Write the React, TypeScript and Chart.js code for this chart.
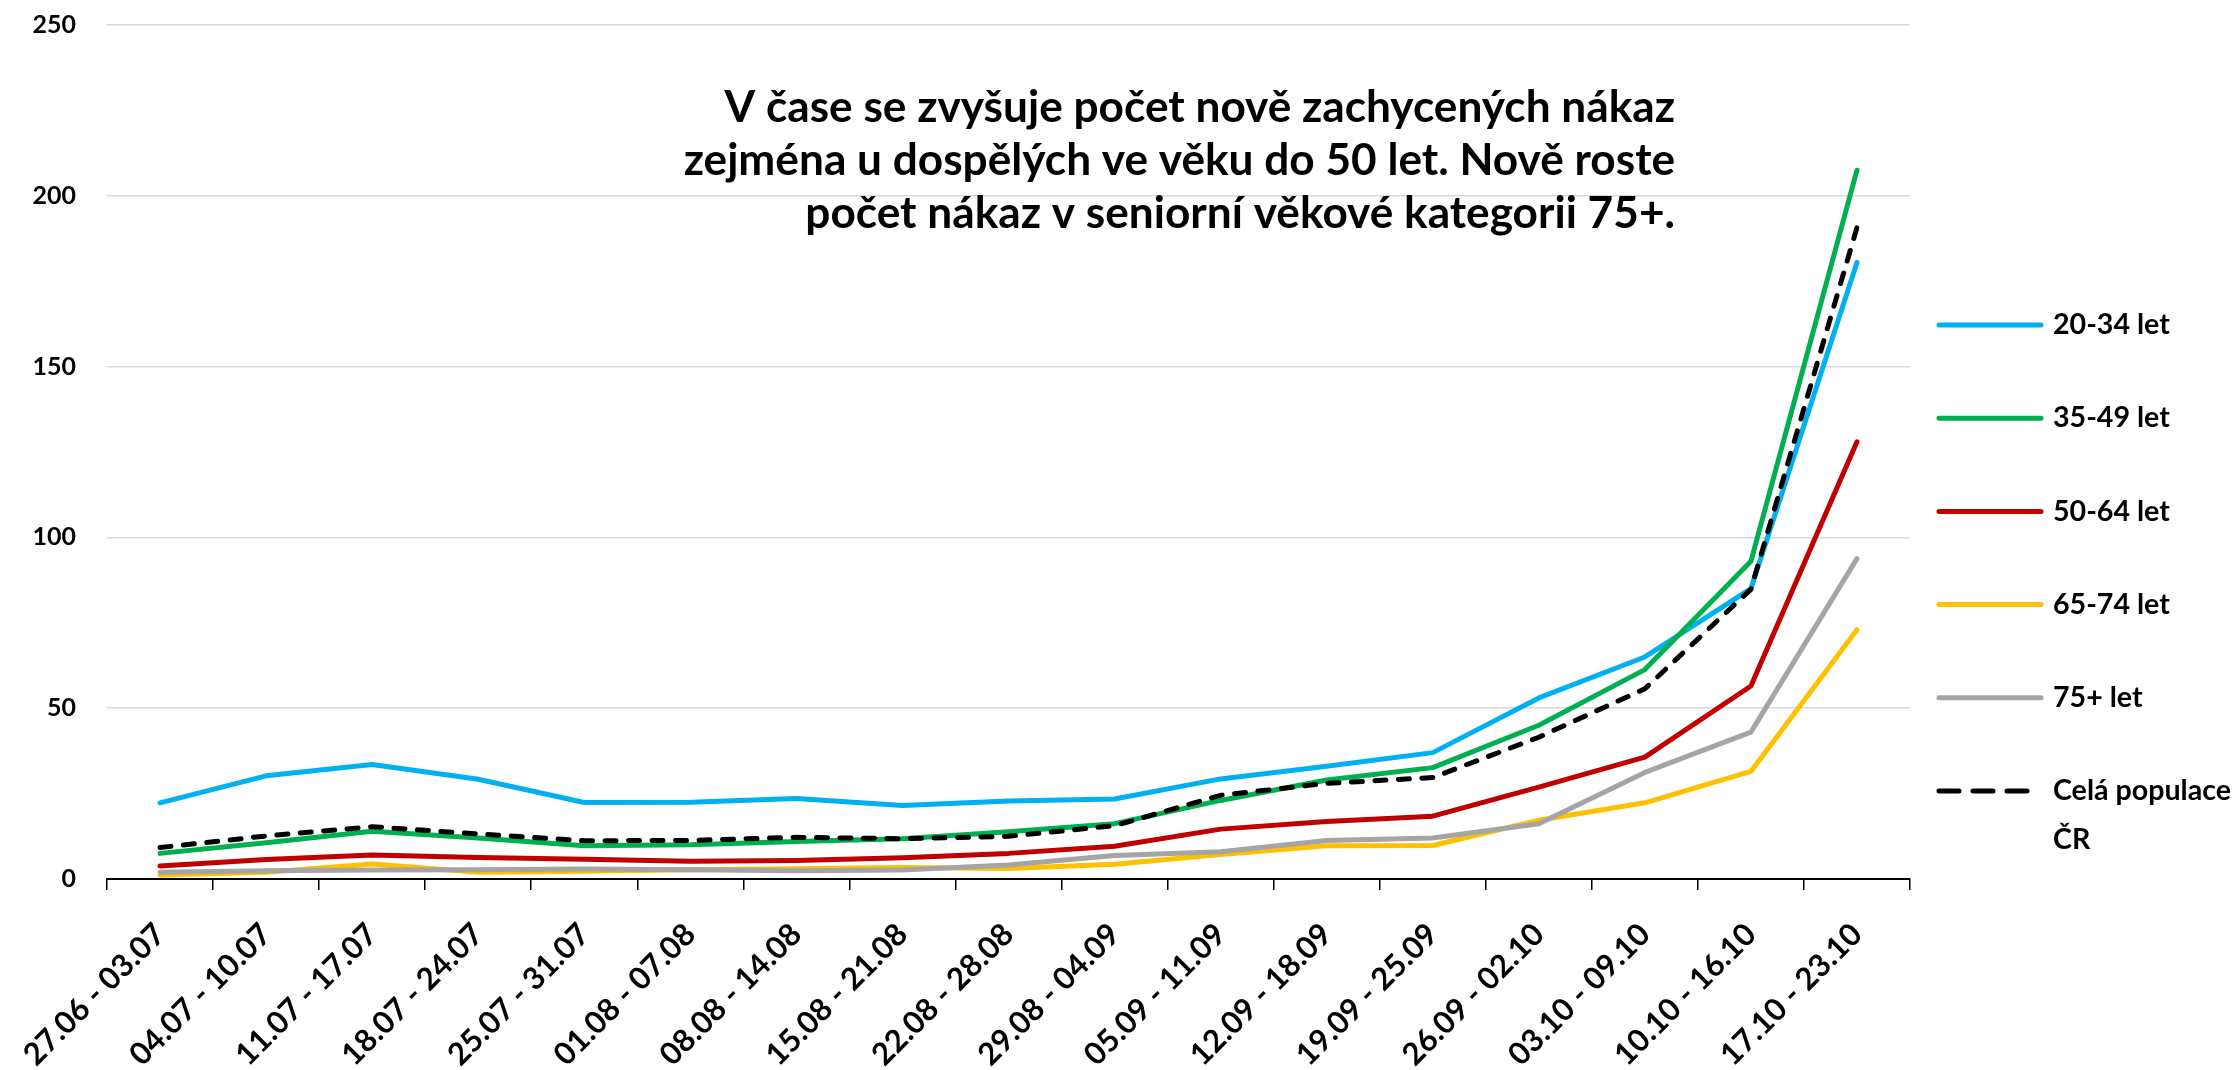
import React, { useEffect, useRef } from "react";
import { Chart, registerables } from "chart.js";

Chart.register(...registerables);

// ---------- data ----------
const categories = [
  "27.06 - 03.07", "04.07 - 10.07", "11.07 - 17.07", "18.07 - 24.07",
  "25.07 - 31.07", "01.08 - 07.08", "08.08 - 14.08", "15.08 - 21.08",
  "22.08 - 28.08", "29.08 - 04.09", "05.09 - 11.09", "12.09 - 18.09",
  "19.09 - 25.09", "26.09 - 02.10", "03.10 - 09.10", "10.10 - 16.10",
  "17.10 - 23.10",
];

const age2034 = [22.3, 30.2, 33.5, 29.2, 22.4, 22.5, 23.6, 21.5, 22.8, 23.4, 29.3, 33.0, 37.0, 53.0, 65.0, 85.0, 180.5];
const age3549 = [7.5, 10.6, 14.0, 12.0, 9.7, 10.0, 11.0, 11.8, 13.8, 16.2, 23.0, 29.0, 32.6, 45.0, 61.3, 93.0, 207.5];
const age5064 = [3.8, 5.7, 7.0, 6.3, 5.8, 5.2, 5.4, 6.2, 7.5, 9.6, 14.6, 16.8, 18.4, 26.9, 35.7, 56.5, 128.0];
const age6574 = [1.2, 2.0, 4.4, 2.0, 2.3, 2.7, 3.0, 3.4, 3.1, 4.3, 7.2, 9.7, 9.8, 17.2, 22.3, 31.5, 73.0];
const age75plus = [2.0, 2.4, 2.6, 2.7, 2.9, 2.7, 2.4, 2.6, 4.1, 6.9, 8.0, 11.3, 12.0, 16.2, 31.2, 43.0, 93.8];
const wholePopulation = [9.2, 12.6, 15.3, 13.2, 11.2, 11.3, 12.2, 11.8, 12.5, 15.6, 24.5, 28.0, 29.7, 41.5, 55.7, 84.8, 190.7];

const seriesNames = ["20-34 let", "35-49 let", "50-64 let", "65-74 let", "75+ let", "Celá populace ČR"];
const legendText = [["20-34 let"], ["35-49 let"], ["50-64 let"], ["65-74 let"], ["75+ let"], ["Celá populace", "ČR"]];
const seriesColors = ["#00B0F0", "#00B050", "#C00000", "#FFC000", "#A5A5A5", "#000000"];

const yMin = 0;
const yMax = 250;
const yStep = 50;

const noteLines = [
  "V čase se zvyšuje počet nově zachycených nákaz",
  "zejména u dospělých ve věku do 50 let. Nově roste",
  "počet nákaz v seniorní věkové kategorii 75+.",
];

// ---------- layout ----------
const W = 2235;
const H = 1070;
const PLOT_LEFT = 105;
const PLOT_RIGHT = 1910;
const PLOT_TOP = 25;
const PLOT_BOTTOM = 879;

const TEXT_FAMILY = "Lato, 'Open Sans', sans-serif";
const NOTE_RIGHT = 1675;
const NOTE_WIDTH = 951;
const NOTE_FIRST_Y = 108;
const NOTE_LINE_H = 53;

const LEGEND_LINE_X0 = 1939;
const LEGEND_LINE_X1 = 2041;
const LEGEND_TEXT_X = 2053;
const LEGEND_FIRST_Y = 325;
const LEGEND_GAP = 93.2;
const LEGEND_LINE_H = 49;
const LEGEND_REF_WIDTH = 178; // width of "Celá populace"

const overlayPlugin = {
  id: "overlay",
  afterDraw(chart: any) {
    const ctx: CanvasRenderingContext2D = chart.ctx;
    ctx.save();
    // annotation text
    ctx.font = `bold 100px ${TEXT_FAMILY}`;
    const noteSize = (100 * NOTE_WIDTH) / ctx.measureText(noteLines[0]).width;
    ctx.font = `bold ${noteSize}px ${TEXT_FAMILY}`;
    ctx.fillStyle = "#000";
    ctx.textAlign = "right";
    ctx.textBaseline = "middle";
    noteLines.forEach((t, i) => ctx.fillText(t, NOTE_RIGHT, NOTE_FIRST_Y + i * NOTE_LINE_H));

    // legend
    ctx.font = `bold 100px ${TEXT_FAMILY}`;
    const legSize = (100 * LEGEND_REF_WIDTH) / ctx.measureText("Celá populace").width;
    chart.data.datasets.forEach((ds: any, i: number) => {
      const y = LEGEND_FIRST_Y + i * LEGEND_GAP;
      ctx.beginPath();
      ctx.strokeStyle = ds.borderColor;
      ctx.lineWidth = 5;
      ctx.lineCap = "round";
      ctx.setLineDash(ds.borderDash && ds.borderDash.length ? [20, 14] : []);
      ctx.moveTo(LEGEND_LINE_X0, y);
      ctx.lineTo(LEGEND_LINE_X1, y);
      ctx.stroke();
      ctx.setLineDash([]);
      ctx.font = `bold ${legSize}px ${TEXT_FAMILY}`;
      ctx.fillStyle = "#000";
      ctx.textAlign = "left";
      ctx.textBaseline = "middle";
      legendText[i].forEach((t, j) => ctx.fillText(t, LEGEND_TEXT_X, y + j * LEGEND_LINE_H));
    });
    ctx.restore();
  },
};

export default function App() {
  const canvasRef = useRef<HTMLCanvasElement | null>(null);

  useEffect(() => {
    document.body.style.margin = "0";
    const canvas = canvasRef.current;
    if (!canvas) return;
    const seriesData = [age2034, age3549, age5064, age6574, age75plus, wholePopulation];
    const drawOrder = [5, 4, 3, 2, 1, 0];
    const chart = new Chart(canvas, {
      type: "line",
      data: {
        labels: categories,
        datasets: seriesData.map((d, i) => ({
          label: seriesNames[i],
          data: d,
          borderColor: seriesColors[i],
          backgroundColor: seriesColors[i],
          borderWidth: 5,
          borderCapStyle: "round",
          borderJoinStyle: "round",
          borderDash: i === 5 ? [11, 12.5] : [],
          pointRadius: 0,
          pointHoverRadius: 0,
          tension: 0,
          fill: false,
          order: drawOrder[i],
        })),
      },
      options: {
        responsive: false,
        animation: false,
        devicePixelRatio: 1,
        layout: {
          autoPadding: false,
          padding: { left: 0, top: PLOT_TOP, right: W - PLOT_RIGHT, bottom: 0 },
        },
        plugins: {
          legend: { display: false },
          tooltip: { enabled: false },
          title: { display: false },
        },
        scales: {
          x: {
            type: "category",
            offset: true,
            grid: {
              offset: true,
              drawOnChartArea: false,
              drawTicks: true,
              tickLength: 11,
              color: "#000",
              lineWidth: 1.5,
            },
            border: { display: true, color: "#000", width: 2 },
            ticks: {
              autoSkip: false,
              minRotation: 45,
              maxRotation: 45,
              padding: 26,
              color: "#000",
              font: { family: TEXT_FAMILY, size: 31, weight: "bold" },
            },
            afterFit: (s: any) => {
              s.height = H - PLOT_BOTTOM;
            },
          },
          y: {
            min: yMin,
            max: yMax,
            grid: { color: "#D9D9D9", lineWidth: 1.5, drawTicks: false },
            border: { display: false },
            ticks: {
              stepSize: yStep,
              padding: 31,
              color: "#000",
              font: { family: TEXT_FAMILY, size: 25, weight: "bold" },
            },
            afterFit: (s: any) => {
              s.width = PLOT_LEFT;
              s.paddingTop = 0;
              s.paddingBottom = 0;
            },
          },
        },
      },
      plugins: [overlayPlugin],
    } as any);
    return () => chart.destroy();
  }, []);

  return (
    <div style={{ width: W, height: H, background: "#fff" }}>
      <canvas ref={canvasRef} width={W} height={H} style={{ display: "block" }} />
    </div>
  );
}
